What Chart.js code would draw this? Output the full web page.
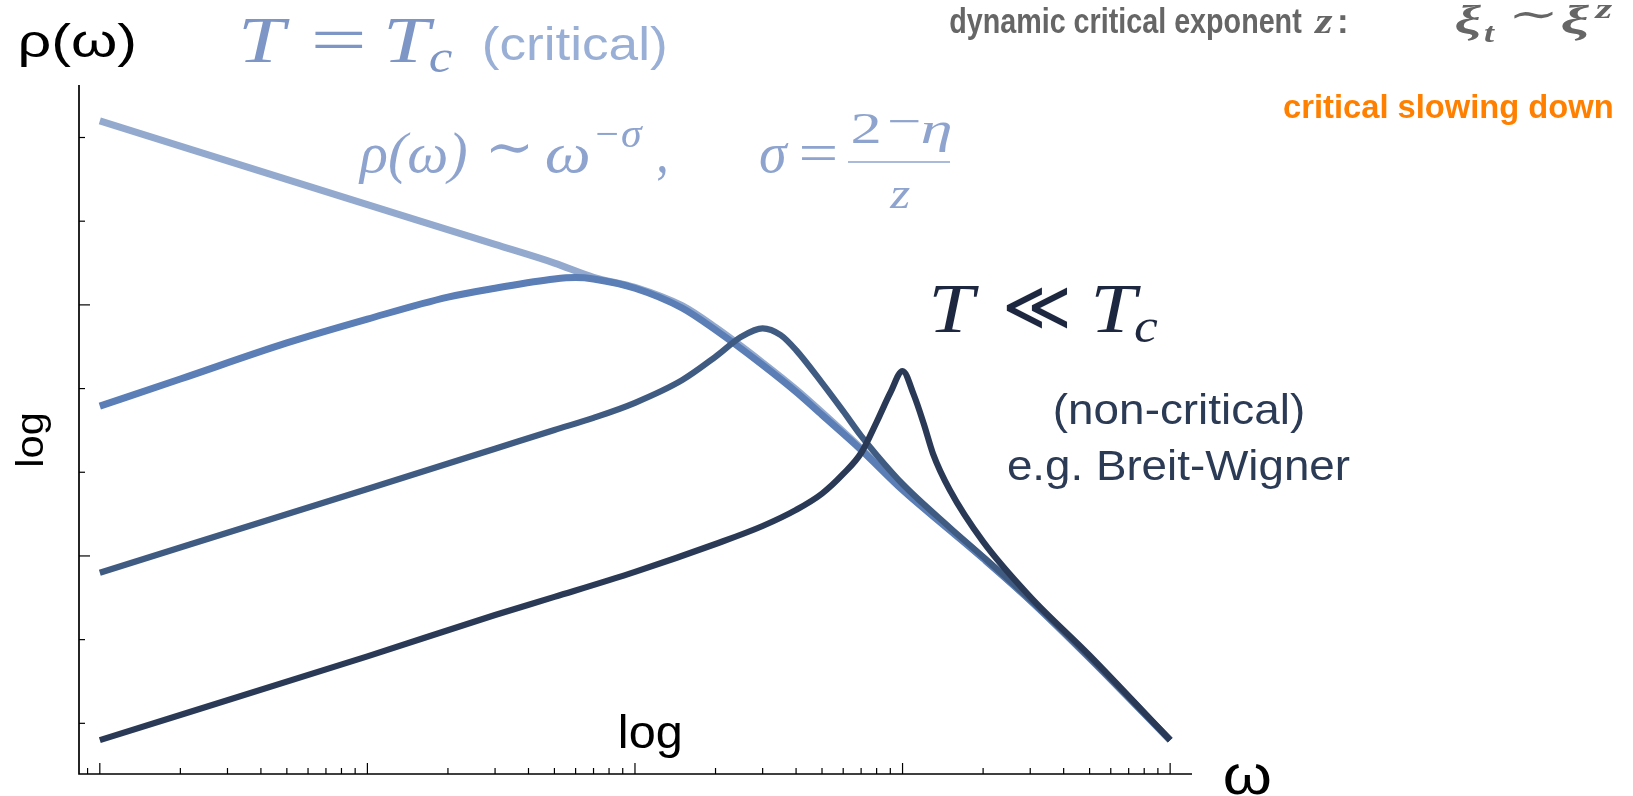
<!DOCTYPE html>
<html>
<head>
<meta charset="utf-8">
<script src="https://cdn.jsdelivr.net/npm/chart.js@4.4.1/dist/chart.umd.min.js"></script>
<style>
  html, body { margin: 0; padding: 0; background: #ffffff; }
  #wrap { width: 1633px; height: 796px; position: relative; }
</style>
</head>
<body>
<div id="wrap"><canvas id="c" width="1633" height="796"></canvas></div>
<script>
// Spectral function rho(omega) on log-log axes for four temperatures.
// T = Tc (critical power law)
const omegaCritical = [1, 10, 30, 50, 70, 100, 150, 200, 300, 400, 500, 700, 1000, 1500, 2000, 3000, 5000, 10000];
const rhoCritical   = [158000, 15800, 5280, 3160, 2140, 1620, 977, 537, 204, 97.7, 51.9, 19.3, 6.31, 2.09, 0.955, 0.295, 0.0603, 0.0063];
// just above Tc
const omegaNear = [1, 2, 5, 10, 20, 30, 50, 60, 70, 100, 150, 200, 300, 400, 500, 700, 1000, 1500, 2000, 3000, 5000, 10000];
const rhoNear   = [61.7, 130, 351, 676, 1240, 1580, 2040, 2120, 2040, 1580, 918, 501, 191, 91.2, 48.4, 18.5, 6.15, 2.04, 0.933, 0.295, 0.0603, 0.0063];
// intermediate temperature
const omegaMid = [1, 10, 30, 50, 70, 100, 150, 200, 250, 300, 350, 400, 500, 600, 700, 800, 1000, 1500, 2000, 3000, 5000, 10000];
const rhoMid   = [0.631, 6.31, 19.1, 32.0, 44.7, 67.6, 126, 240, 417, 525, 437, 288, 117, 53.7, 27.2, 16.1, 7.24, 2.19, 0.977, 0.302, 0.0617, 0.0063];
// T << Tc (Breit-Wigner like peak)
const omegaCold = [1, 10, 30, 50, 100, 200, 300, 400, 500, 600, 700, 800, 900, 1000, 1100, 1200, 1300, 1500, 2000, 3000, 5000, 10000];
const rhoCold   = [0.0063, 0.0631, 0.197, 0.324, 0.646, 1.39, 2.28, 3.55, 5.56, 9.55, 17.0, 39.8, 89.1, 162, 85.1, 38.0, 16.6, 6.17, 1.48, 0.324, 0.0646, 0.0063];

// Axis tick positions (no tick labels are printed)
const xMajorTicks = [1, 10, 100, 1000, 10000];
const xMinorTicks = [0.9, 2, 3, 4, 5, 6, 7, 8, 9, 20, 30, 40, 50, 60, 70, 80, 90,
                     200, 300, 400, 500, 600, 700, 800, 900, 2000, 3000, 4000, 5000, 6000, 7000, 8000, 9000];
const yMajorTicks = [1, 1000];
const yMinorTicks = [0.01, 0.1, 10, 100, 10000, 100000];

const SANS = '"Liberation Sans", Arial, Helvetica, sans-serif';
const SERIF = '"Liberation Serif", "DejaVu Serif", "Times New Roman", serif';
const MATHSYM = '"DejaVu Serif", "Liberation Serif", serif';

const colCritical = '#93aace';
const colNear = '#5a7eb5';
const colMid = '#405b82';
const colCold = '#2a3a56';

function series(xs, ys, color, width, order) {
  return {
    data: xs.map((v, i) => ({ x: v, y: ys[i] })),
    borderColor: color,
    borderWidth: width,
    pointRadius: 0,
    fill: false,
    cubicInterpolationMode: 'monotone',
    borderCapStyle: 'butt',
    borderJoinStyle: 'round',
    order: order
  };
}

// draw text so that its ink starts at x and spans width w (horizontal fit)
function put(ctx, s, x, y, font, color, w) {
  ctx.save();
  ctx.font = font;
  ctx.fillStyle = color;
  ctx.textAlign = 'left';
  ctx.textBaseline = 'alphabetic';
  const m = ctx.measureText(s);
  const ink = m.actualBoundingBoxLeft + m.actualBoundingBoxRight;
  const k = w ? w / ink : 1;
  ctx.translate(x + m.actualBoundingBoxLeft * k, y);
  ctx.scale(k, 1);
  ctx.fillText(s, 0, 0);
  ctx.restore();
}
function putCenter(ctx, s, cx, y, font, color, w) {
  ctx.save();
  ctx.font = font;
  const m = ctx.measureText(s);
  const ink = m.actualBoundingBoxLeft + m.actualBoundingBoxRight;
  const k = w ? w / ink : 1;
  ctx.restore();
  put(ctx, s, cx - (ink * k) / 2, y, font, color, w);
}

const frame = {
  id: 'frame',
  beforeDatasetsDraw(chart) {
    const { ctx, chartArea: a, scales: { x, y } } = chart;
    ctx.save();
    ctx.strokeStyle = '#000';
    ctx.lineWidth = 1.7;
    ctx.beginPath();
    ctx.moveTo(a.left, a.top);
    ctx.lineTo(a.left, a.bottom);
    ctx.lineTo(a.right, a.bottom);
    ctx.stroke();
    ctx.lineWidth = 1.2;
    const seg = (x0, y0, x1, y1) => { ctx.beginPath(); ctx.moveTo(x0, y0); ctx.lineTo(x1, y1); ctx.stroke(); };
    xMajorTicks.forEach(v => { const p = x.getPixelForValue(v); seg(p, a.bottom, p, a.bottom - 11); });
    xMinorTicks.forEach(v => { const p = x.getPixelForValue(v); seg(p, a.bottom, p, a.bottom - 6); });
    yMajorTicks.forEach(v => { const p = y.getPixelForValue(v); seg(a.left, p, a.left + 11, p); });
    yMinorTicks.forEach(v => { const p = y.getPixelForValue(v); seg(a.left, p, a.left + 6, p); });
    ctx.restore();
  }
};

const labels = {
  id: 'labels',
  afterDraw(chart) {
    const ctx = chart.ctx;
    // axis names
    put(ctx, 'ρ(ω)', 20, 57, '46px ' + SANS, '#000', 114);
    put(ctx, 'log', 621, 748, '46px ' + SANS, '#000', 59);
    put(ctx, 'ω', 1225, 794, '56px ' + SANS, '#000', 45);
    ctx.save();
    ctx.translate(33, 440);
    ctx.rotate(-Math.PI / 2);
    ctx.font = '38px ' + SANS;
    const ml = ctx.measureText('log');
    const off = (ml.actualBoundingBoxAscent - ml.actualBoundingBoxDescent) / 2;
    putCenter(ctx, 'log', 0, off, '38px ' + SANS, '#000', 51);
    ctx.restore();

    // critical regime
    const lb = '#7d96c6';
    put(ctx, 'T', 243, 62, 'italic 66px ' + SERIF, lb, 47);
    put(ctx, '=', 315, 62, '66px ' + SERIF, lb, 47);
    put(ctx, 'T', 388, 62, 'italic 66px ' + SERIF, lb, 47);
    put(ctx, 'c', 430, 72, 'italic 46px ' + SERIF, lb, 22);
    put(ctx, '(critical)', 484, 60, '46px ' + SANS, '#99afd5', 181);

    const mb = '#8ea4ce';
    put(ctx, 'ρ(ω)', 358, 172, 'italic 56px ' + SERIF, mb, 108);
    put(ctx, '∼', 490, 166, '56px ' + MATHSYM, mb, 38);
    put(ctx, 'ω', 546, 172, 'italic 56px ' + SERIF, mb, 43);
    put(ctx, '−σ', 597, 147, 'italic 40px ' + SERIF, mb, 46);
    put(ctx, ',', 658, 172, '56px ' + SERIF, mb, 8);
    put(ctx, 'σ', 760, 172, 'italic 56px ' + SERIF, mb, 29);
    put(ctx, '=', 801, 172, '56px ' + SERIF, mb, 34);
    put(ctx, '2', 852, 143, '44px ' + SERIF, mb, 27);
    put(ctx, '−', 890, 136, '44px ' + SERIF, mb, 29);
    put(ctx, 'η', 922, 143, 'italic 44px ' + SERIF, mb, 28);
    put(ctx, 'z', 889, 208, 'italic 44px ' + SERIF, mb, 21);
    ctx.save();
    ctx.strokeStyle = mb;
    ctx.lineWidth = 1.6;
    ctx.beginPath();
    ctx.moveTo(848, 162);
    ctx.lineTo(950, 162);
    ctx.stroke();
    ctx.restore();

    // non-critical regime
    const db = '#1d2840';
    put(ctx, 'T', 933, 332, 'italic 70px ' + SERIF, db, 47);
    put(ctx, '≪', 1007, 330, '70px ' + MATHSYM, db, 61);
    put(ctx, 'T', 1095, 332, 'italic 70px ' + SERIF, db, 47);
    put(ctx, 'c', 1135, 342, 'italic 49px ' + SERIF, db, 23);
    putCenter(ctx, '(non-critical)', 1179, 424, '42px ' + SANS, '#2b3a55', 248);
    putCenter(ctx, 'e.g. Breit-Wigner', 1179, 480, '42px ' + SANS, '#2b3a55', 342);

    // dynamic exponent note
    const gr = '#666666';
    put(ctx, 'dynamic critical exponent', 950, 33, 'bold 35px ' + SANS, gr, 352);
    put(ctx, 'z', 1314, 33, 'italic bold 35px ' + SERIF, gr, 19);
    put(ctx, ':', 1340, 33, 'bold 35px ' + SANS, gr, 6);
    put(ctx, 'ξ', 1456, 33, 'italic bold 41px ' + SERIF, gr, 26);
    put(ctx, 't', 1484, 42, 'italic bold 27px ' + SERIF, gr, 12);
    put(ctx, '∼', 1514, 28, '41px ' + MATHSYM, gr, 40);
    put(ctx, 'ξ', 1562, 33, 'italic bold 41px ' + SERIF, gr, 28);
    put(ctx, 'z', 1594, 18, 'italic bold 27px ' + SERIF, gr, 19);
    put(ctx, 'critical slowing down', 1284, 118, 'bold 34px ' + SANS, '#ff8000', 328);
  }
};

new Chart(document.getElementById('c'), {
  type: 'line',
  data: {
    datasets: [
      series(omegaCritical, rhoCritical, colCritical, 7, 4),
      series(omegaNear, rhoNear, colNear, 7, 3),
      series(omegaMid, rhoMid, colMid, 6.2, 2),
      series(omegaCold, rhoCold, colCold, 6.2, 1)
    ]
  },
  options: {
    responsive: false,
    animation: false,
    devicePixelRatio: 1,
    events: [],
    layout: { padding: { left: 79, top: 85, right: 441, bottom: 22 } },
    plugins: { legend: { display: false }, tooltip: { enabled: false } },
    scales: {
      x: { type: 'logarithmic', min: 0.836, max: 12070, display: false },
      y: { type: 'logarithmic', min: 0.00248, max: 424000, display: false }
    }
  },
  plugins: [frame, labels]
});
</script>
</body>
</html>
